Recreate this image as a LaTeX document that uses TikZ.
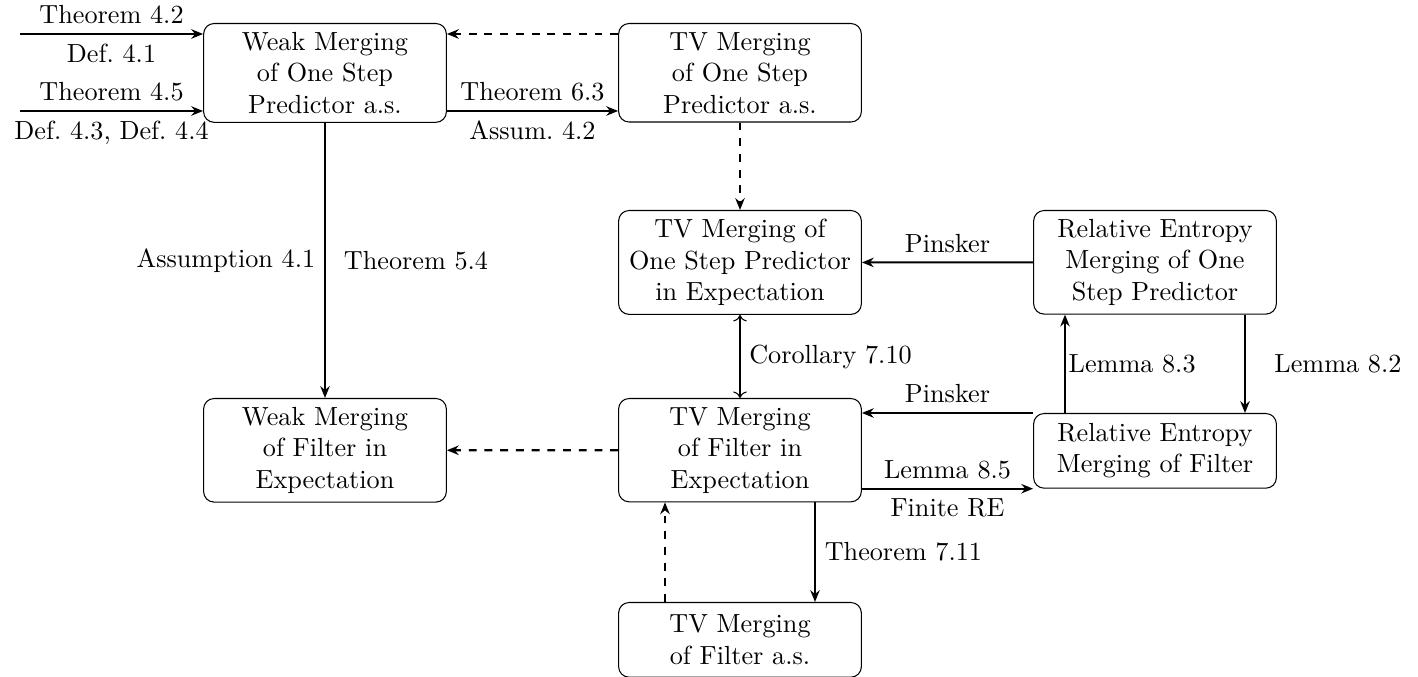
\documentclass[tikz,border=0pt]{standalone}
\usetikzlibrary{arrows.meta,calc}
\begin{document}
\begin{tikzpicture}[x=0.3817pt,y=-0.3817pt,
  box/.style={draw, rounded corners=4pt, text width=86pt, align=center, inner sep=3.33pt, minimum height=28.5pt, anchor=north},
  arr/.style={thick, -{Stealth[length=4.5pt,width=3.6pt]}},
  darr/.style={arr, dashed},
  biarr/.style={thin, <->}]
\useasboundingbox (0,0) rectangle (1418,677);
% nodes
\node[box] (WO)   at (325,23)  {Weak Merging\\of One Step\\Predictor a.s.};
\node[box] (TVO)  at (740,23)  {TV Merging\\of One Step\\Predictor a.s.};
\node[box] (TVOE) at (740,210) {TV Merging of\\One Step Predictor\\in Expectation};
\node[box] (REO)  at (1155,210) {Relative Entropy\\Merging of One\\Step Predictor};
\node[box] (WFE)  at (325,398) {Weak Merging\\of Filter in\\Expectation};
\node[box] (TVFE) at (740,398) {TV Merging\\of Filter in\\Expectation};
\node[box] (REF)  at (1155,413) {Relative Entropy\\Merging of Filter};
\node[box] (TVFA) at (740,602) {TV Merging\\of Filter a.s.};
% helper coordinates
\coordinate (i1) at (20,34);
\coordinate (i2) at (20,111);
\coordinate (a) at (1065,0);
\coordinate (b) at (1245,0);
\coordinate (c) at (815,0);
\coordinate (d) at (665,0);
% connectors
\draw[arr] (i1) -- (WO.west |- i1) node[midway,above] {Theorem 4.2} node[midway,below] {Def.~4.1};
\draw[arr] (i2) -- (WO.west |- i2) node[midway,above] {Theorem 4.5} node[midway,below] {Def.~4.3, Def.~4.4};
\draw[darr] (TVO.west |- i1) -- (WO.east |- i1);
\draw[arr] (WO.east |- i2) -- (TVO.west |- i2) node[midway,above] {Theorem 6.3} node[midway,below] {Assum.~4.2};
\draw[arr] (WO) -- (WFE) node[midway,left] {Assumption 4.1} node[midway,right=3.5pt] {Theorem 5.4};
\draw[darr] (TVO) -- (TVOE);
\draw[arr] (REO.west) -- (TVOE.east) node[midway,above] {Pinsker};
\draw[biarr] (TVOE) -- (TVFE) node[midway,right] {Corollary 7.10};
\draw[arr] (REF.north west) -- (TVFE.east |- REF.north west) node[midway,above] {Pinsker};
\draw[arr] (TVFE.east |- REF.south west) -- (REF.south west) node[midway,above] {Lemma 8.5} node[midway,below] {Finite RE};
\draw[arr] (a |- REF.north) -- (a |- REO.south) node[midway,right,inner sep=1pt] {Lemma 8.3};
\draw[arr] (b |- REO.south) -- (b |- REF.north) node[midway,right=7.5pt] {Lemma 8.2};
\draw[darr] (TVFE) -- (WFE);
\draw[arr] (c |- TVFE.south) -- (c |- TVFA.north) node[midway,right] {Theorem 7.11};
\draw[darr] (d |- TVFA.north) -- (d |- TVFE.south);
\end{tikzpicture}
\end{document}
